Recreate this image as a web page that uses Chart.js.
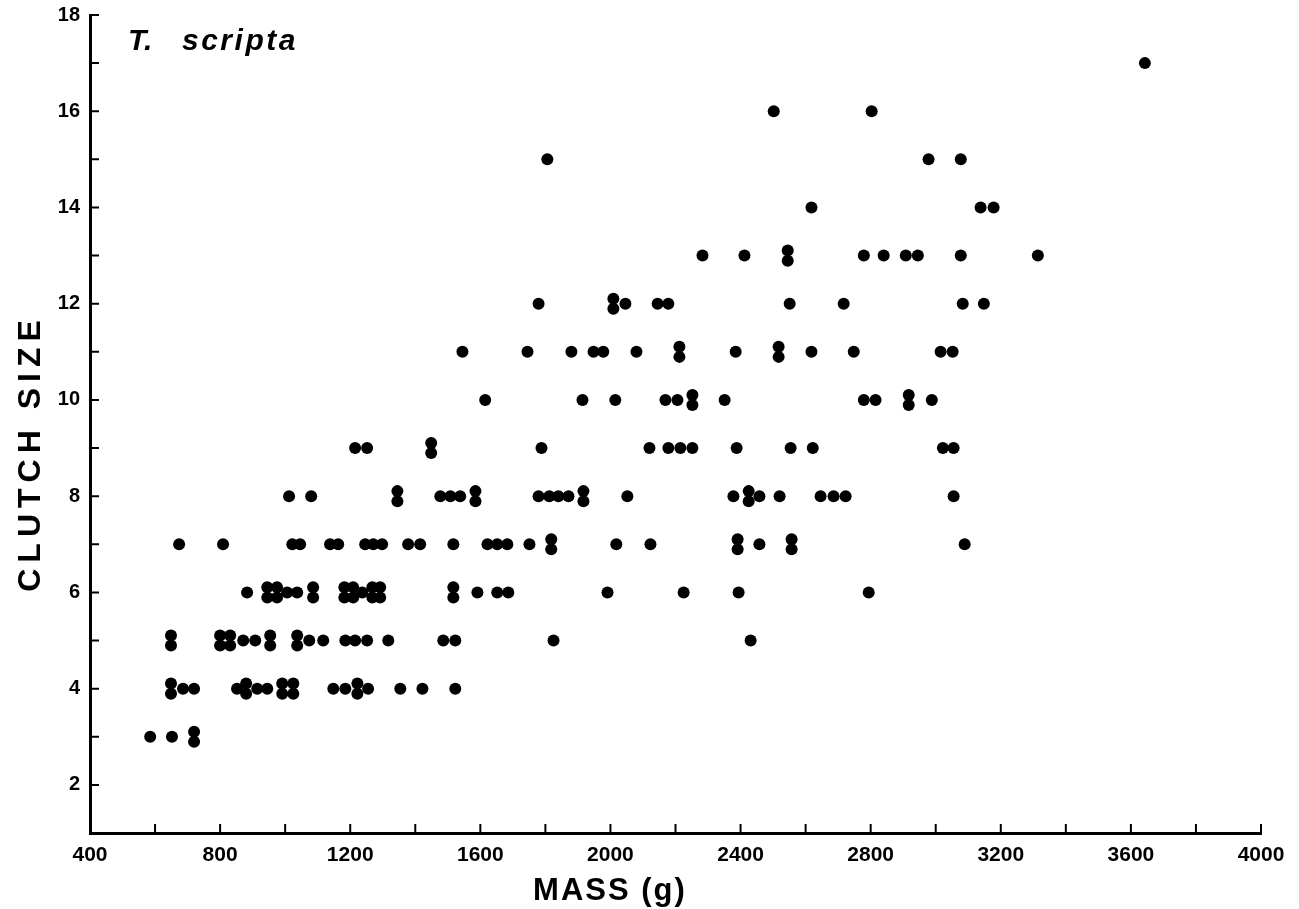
<!DOCTYPE html>
<html>
<head>
<meta charset="utf-8">
<title>T. scripta - clutch size vs mass</title>
<script src="https://cdn.jsdelivr.net/npm/chart.js@4.4.1/dist/chart.umd.min.js"></script>
<style>
  html, body { margin: 0; padding: 0; background: #fff; }
  canvas { display: block; }
</style>
</head>
<body>
<canvas id="chart" width="1299" height="909"></canvas>
<script>
// Mass (g) of each female, grouped by clutch size.
// A mass listed twice = two turtles at the same point (drawn stacked).
const clutch3 = [585, 652, 720, 720];
const clutch4 = [649, 649, 686, 720, 852, 880, 880, 914, 945, 991, 991, 1025, 1025, 1148, 1185, 1222, 1222, 1255, 1354, 1422, 1523];
const clutch5 = [649, 649, 800, 800, 831, 831, 871, 908, 954, 954, 1037, 1037, 1074, 1117, 1185, 1215, 1252, 1317, 1486, 1523, 1825, 2431];
const clutch6 = [883, 945, 945, 975, 975, 1006, 1037, 1086, 1086, 1182, 1182, 1209, 1209, 1237, 1268, 1268, 1292, 1292, 1517, 1517, 1591, 1652, 1686, 1991, 2225, 2394, 2794];
const clutch7 = [674, 809, 1022, 1046, 1138, 1163, 1246, 1271, 1298, 1378, 1415, 1517, 1622, 1652, 1683, 1751, 1818, 1818, 2018, 2123, 2391, 2391, 2458, 2557, 2557, 3089];
const clutch8 = [1012, 1080, 1345, 1345, 1477, 1508, 1538, 1585, 1585, 1779, 1812, 1840, 1871, 1917, 1917, 2052, 2378, 2425, 2425, 2458, 2520, 2646, 2686, 2723, 3055];
const clutch9 = [1215, 1252, 1449, 1449, 1788, 2120, 2178, 2215, 2252, 2388, 2554, 2622, 3022, 3055];
const clutch10 = [1615, 1914, 2015, 2169, 2206, 2252, 2252, 2351, 2779, 2815, 2917, 2917, 2988];
const clutch11 = [1545, 1745, 1880, 1948, 1978, 2080, 2212, 2212, 2385, 2517, 2517, 2618, 2748, 3015, 3052];
const clutch12 = [1779, 2009, 2009, 2046, 2145, 2178, 2551, 2717, 3083, 3148];
const clutch13 = [2283, 2412, 2545, 2545, 2779, 2840, 2908, 2945, 3077, 3314];
const clutch14 = [2618, 3138, 3178];
const clutch15 = [1806, 2978, 3077];
const clutch16 = [2502, 2803];
const clutch17 = [3643];

const clutchSizes = [3, 4, 5, 6, 7, 8, 9, 10, 11, 12, 13, 14, 15, 16, 17];
const massByClutch = [clutch3, clutch4, clutch5, clutch6, clutch7, clutch8, clutch9,
  clutch10, clutch11, clutch12, clutch13, clutch14, clutch15, clutch16, clutch17];

const xTickLabels = [400, 800, 1200, 1600, 2000, 2400, 2800, 3200, 3600, 4000];
const yTickLabels = [2, 4, 6, 8, 10, 12, 14, 16, 18];

// build points; repeated (mass, size) pairs are stacked a little, like the original plot
const STACK = 0.21;
const points = [];
clutchSizes.forEach((size, i) => {
  const row = massByClutch[i];
  const seen = {};
  row.forEach(m => {
    const n = row.filter(v => v === m).length;
    const k = seen[m] = (seen[m] || 0) + 1;
    points.push({ x: m, y: size + (k - 1 - (n - 1) / 2) * STACK });
  });
});

// short tick marks pointing into the plot
const inwardTicks = {
  id: 'inwardTicks',
  afterDraw(chart) {
    const { ctx, chartArea: a, scales: { x, y } } = chart;
    ctx.save();
    ctx.strokeStyle = '#000';
    ctx.lineWidth = 2;
    ctx.beginPath();
    y.ticks.forEach(t => {
      const py = y.getPixelForValue(t.value);
      ctx.moveTo(a.left, py);
      ctx.lineTo(a.left + 9, py);
    });
    x.ticks.forEach(t => {
      const px = x.getPixelForValue(t.value);
      ctx.moveTo(px, a.bottom);
      ctx.lineTo(px, a.bottom - 9);
    });
    ctx.stroke();
    ctx.restore();
  }
};

// axis titles and species label
const captions = {
  id: 'captions',
  afterDraw(chart) {
    const { ctx } = chart;
    ctx.save();
    ctx.fillStyle = '#000';
    ctx.textBaseline = 'alphabetic';

    ctx.font = 'bold italic 30px "Liberation Sans", Arial, sans-serif';
    ctx.letterSpacing = '0px';
    ctx.textAlign = 'left';
    ctx.fillText('T.', 128, 50);
    ctx.letterSpacing = '2.5px';
    ctx.fillText('scripta', 182, 50);

    ctx.font = 'bold 31px "Liberation Sans", Arial, sans-serif';
    ctx.letterSpacing = '2px';
    ctx.textAlign = 'center';
    ctx.fillText('MASS (g)', 610, 900);

    ctx.translate(40, 453);
    ctx.rotate(-Math.PI / 2);
    ctx.font = 'bold 32px "Liberation Sans", Arial, sans-serif';
    ctx.letterSpacing = '6px';
    ctx.fillText('CLUTCH SIZE', 0, 0);
    ctx.restore();
  }
};

const ctx = document.getElementById('chart').getContext('2d');
new Chart(ctx, {
  type: 'scatter',
  data: {
    datasets: [{
      data: points,
      backgroundColor: '#000',
      borderWidth: 0,
      pointRadius: 6,
      pointHoverRadius: 6
    }]
  },
  options: {
    responsive: false,
    animation: false,
    layout: { padding: { top: 15, right: 38, left: 0, bottom: 0 } },
    plugins: { legend: { display: false }, tooltip: { enabled: false } },
    scales: {
      x: {
        type: 'linear',
        min: 400,
        max: 4000,
        afterFit: s => { s.height = 76; },
        grid: { display: true, drawOnChartArea: false, drawTicks: false },
        border: { display: true, color: '#000', width: 3 },
        ticks: {
          stepSize: 200,
          autoSkip: false,
          maxRotation: 0,
          padding: 10,
          color: '#000',
          font: { family: '"Liberation Sans", Arial, sans-serif', size: 21, weight: 'bold' },
          callback: v => xTickLabels.includes(v) ? String(v) : ''
        }
      },
      y: {
        min: 1,
        max: 18,
        afterFit: s => { s.width = 90; s.paddingTop = 0; s.paddingBottom = 0; },
        grid: { display: true, drawOnChartArea: false, drawTicks: false },
        border: { display: true, color: '#000', width: 3 },
        ticks: {
          stepSize: 1,
          autoSkip: false,
          padding: 10,
          color: '#000',
          font: { family: '"Liberation Sans", Arial, sans-serif', size: 20, weight: 'bold' },
          callback: v => yTickLabels.includes(v) ? String(v) : ''
        }
      }
    }
  },
  plugins: [inwardTicks, captions]
});
</script>
</body>
</html>
